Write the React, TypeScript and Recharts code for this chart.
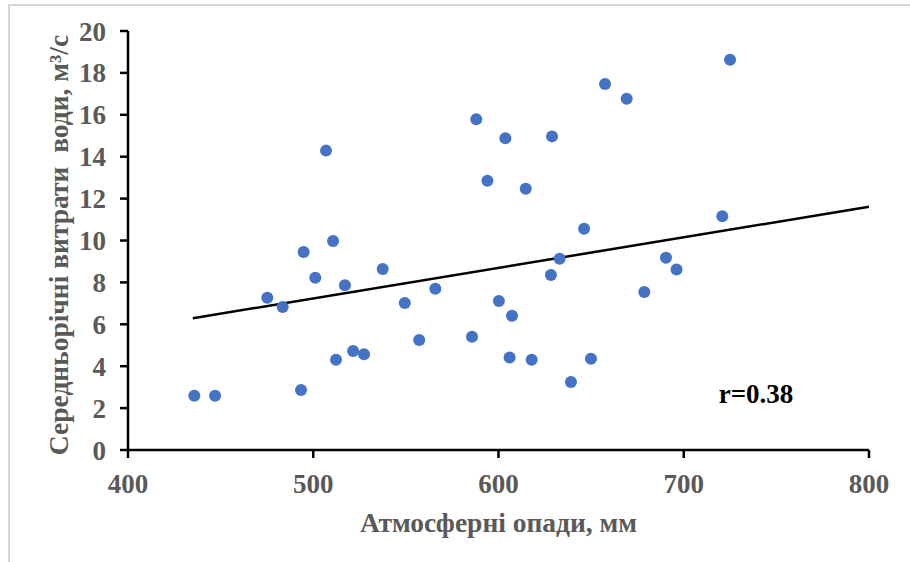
import React from 'react';
import {
  ScatterChart,
  Scatter,
  XAxis,
  YAxis,
  ReferenceLine,
  ReferenceDot,
} from 'recharts';

const precipitation = [
  435.8, 447, 475.2, 483.5, 493.4, 494.8, 501.1, 506.9, 510.7, 512.3,
  517.1, 521.5, 527.4, 537.5, 549.4, 557.2, 565.9, 585.7, 588, 594,
  600.2, 603.7, 606, 607.3, 614.7, 617.9, 628.3, 628.9, 633, 639.1,
  646.2, 649.9, 657.5, 669.2, 678.7, 690.4, 696.1, 720.8, 725,
];
const discharge = [
  2.59, 2.59, 7.27, 6.83, 2.86, 9.45, 8.22, 14.29, 9.98, 4.31,
  7.86, 4.73, 4.57, 8.64, 7.02, 5.25, 7.7, 5.41, 15.79, 12.85,
  7.11, 14.88, 4.41, 6.41, 12.47, 4.31, 8.35, 14.97, 9.13, 3.25,
  10.56, 4.36, 17.47, 16.77, 7.54, 9.18, 8.62, 11.16, 18.63,
];
const trendX = [435, 800];
const trendY = [6.29, 11.61];
const xTicks = [400, 500, 600, 700, 800];
const yTicks = [0, 2, 4, 6, 8, 10, 12, 14, 16, 18, 20];

const points = precipitation.map((x, i) => ({ x, y: discharge[i] }));

const FONT = '"Liberation Serif", "Times New Roman", serif';
const GRAY = '#595959';

const Dot = (props: any) => (
  <circle cx={props.cx} cy={props.cy} r={6} fill="#4472C4" />
);

const YLabel = () => {
  const cx = 58;
  const cy = 245;
  return (
    <text
      x={cx}
      y={cy}
      transform={`rotate(-90, ${cx}, ${cy})`}
      textAnchor="middle"
      dominantBaseline="central"
      fontFamily={FONT}
      fontWeight="bold"
      fontSize={27.5}
      fill={GRAY}
      style={{ whiteSpace: 'pre' }}
    >
      {'Середньорічні витрати\u00A0 води, м³/с'}
    </text>
  );
};

const XLabel = (props: any) => {
  const vb = props.viewBox || {};
  const cx = vb.x + vb.width / 2;
  return (
    <text
      x={cx}
      y={532}
      textAnchor="middle"
      fontFamily={FONT}
      fontWeight="bold"
      fontSize={27.5}
      fill={GRAY}
    >
      Атмосферні опади, мм
    </text>
  );
};

export default function App() {
  return (
    <div
      style={{
        position: 'absolute',
        left: 0,
        top: 0,
        width: 910,
        height: 562,
        background: '#fff',
        overflow: 'hidden',
      }}
    >
      <div
        style={{
          position: 'absolute',
          left: 8,
          top: 4,
          right: 0,
          bottom: 0,
          borderTop: '2px solid #d6d6d6',
          borderLeft: '2px solid #d6d6d6',
        }}
      />
      <div style={{ position: 'absolute', left: 0, top: 0 }}>
        <ScatterChart
          width={910}
          height={562}
          margin={{ top: 31, right: 41, bottom: 0, left: 0 }}
        >
          <XAxis
            type="number"
            dataKey="x"
            domain={[400, 800]}
            ticks={xTicks}
            allowDataOverflow
            height={112}
            tickSize={8}
            tickMargin={16}
            axisLine={{ stroke: '#000', strokeWidth: 2.5 }}
            tickLine={{ stroke: '#000', strokeWidth: 2.5 }}
            tick={{ fill: GRAY, fontFamily: FONT, fontWeight: 'bold', fontSize: 27 }}
            label={<XLabel />}
          />
          <YAxis
            type="number"
            dataKey="y"
            domain={[0, 20]}
            ticks={yTicks}
            allowDataOverflow
            width={128}
            tickSize={8}
            tickMargin={14}
            axisLine={{ stroke: '#000', strokeWidth: 2.5 }}
            tickLine={{ stroke: '#000', strokeWidth: 2.5 }}
            tick={{ fill: GRAY, fontFamily: FONT, fontWeight: 'bold', fontSize: 27 }}
            label={<YLabel />}
          />
          <ReferenceLine
            segment={[
              { x: trendX[0], y: trendY[0] },
              { x: trendX[1], y: trendY[1] },
            ]}
            stroke="#000"
            strokeWidth={2.5}
          />
          <Scatter
            data={points}
            shape={Dot}
            isAnimationActive={false}
          />
          <ReferenceDot
            x={739}
            y={2.72}
            r={0}
            fill="none"
            stroke="none"
            label={{
              value: 'r=0.38',
              position: 'center',
              fill: '#000',
              fontFamily: FONT,
              fontWeight: 'bold',
              fontSize: 27,
            }}
          />
        </ScatterChart>
      </div>
    </div>
  );
}
